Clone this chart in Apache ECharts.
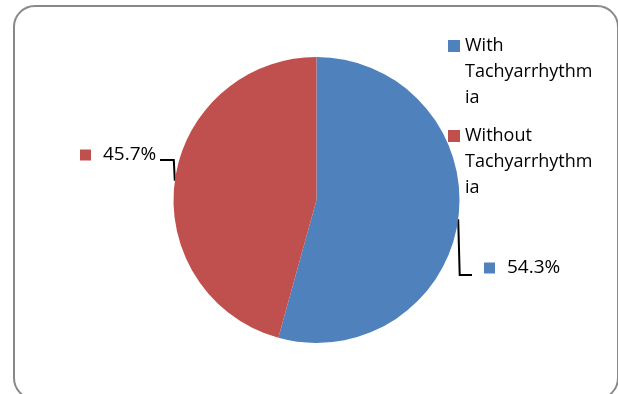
<!DOCTYPE html>
<html><head><meta charset="utf-8">
<script src="https://cdn.jsdelivr.net/npm/echarts@6/dist/echarts.min.js"></script>
<style>html,body{margin:0;padding:0;background:#fff}#c{width:618px;height:394px}</style>
</head><body><div id="c"></div>
<script>
const categories = ['With\nTachyarrhythm\nia', 'Without\nTachyarrhythm\nia'];
const values = [54.3, 45.7];
const colors = ['#4F81BD', '#C0504D'];
const labelTexts = ['54.3%', '45.7%'];

const chart = echarts.init(document.getElementById('c'), null, {renderer: 'canvas'});
const font = '"Open Sans", "Liberation Sans", sans-serif';
chart.setOption({
  animation: false,
  backgroundColor: '#fff',
  graphic: [{
    type: 'rect', left: 13, top: 5, z: -1,
    shape: {width: 604, height: 393, r: 21},
    style: {fill: '#fff', stroke: '#888', lineWidth: 2}
  }],
  legend: {
    orient: 'vertical', left: 448, top: 33, padding: 0,
    itemWidth: 12, itemHeight: 78, itemGap: 12,
    icon: 'path://M0,7h12v12h-12z M0,0h0.01 M0,78h0.01',
    textStyle: {fontFamily: font, fontSize: 18, color: '#000', lineHeight: 26},
    data: categories
  },
  series: [{
    type: 'pie',
    center: [316.5, 200], radius: 143,
    startAngle: 90, clockwise: true,
    itemStyle: {borderWidth: 0},
    label: {show: true, position: 'outer', fontFamily: font, fontSize: 19, color: '#000'},
    labelLine: {show: true, lineStyle: {color: '#000', width: 2}},
    labelLayout: function (p) {
      const s = p.labelLinePoints ? p.labelLinePoints[0] : [0, 0];
      if (p.dataIndex === 0) {
        return {x: 484, y: 268, align: 'left', verticalAlign: 'middle', fontSize: 19,
          labelLinePoints: [s, [s[0] + 1.5, 275], [472, 275]]};
      }
      return {x: 80, y: 155, align: 'left', verticalAlign: 'middle', fontSize: 19,
        labelLinePoints: [s, [s[0] - 1, 160], [160, 160]]};
    },
    data: values.map((v, i) => ({
      name: categories[i], value: v,
      itemStyle: {color: colors[i]},
      label: {
        formatter: '{sq|}{t|' + labelTexts[i] + '}',
        rich: {
          sq: {width: 11, height: 11, backgroundColor: colors[i]},
          t: {fontFamily: font, fontSize: 19, color: '#000', padding: [0, 0, 0, 12]}
        }
      }
    }))
  }]
});
</script></body></html>
